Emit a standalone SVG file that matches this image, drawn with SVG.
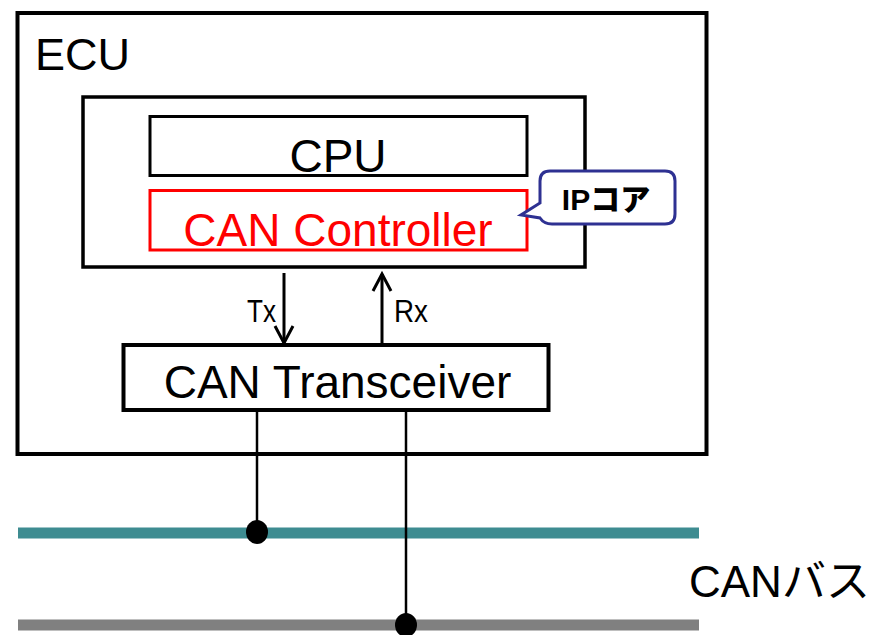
<svg xmlns="http://www.w3.org/2000/svg" width="875" height="635" viewBox="0 0 875 635">
  <defs>
    <style>
      .box { fill: #ffffff; stroke: #000000; }
      .lbl { font-family: "Liberation Sans", Arial, "Noto Sans CJK JP", sans-serif; fill: #000000; }
      .wire { stroke: #000000; stroke-width: 2.5; fill: none; }
      .arrow { stroke: #000000; stroke-width: 3; fill: none; }
      .bus { stroke-width: 11; fill: none; }
    </style>
    <marker id="arr" markerUnits="userSpaceOnUse" viewBox="-20 -12 24 24" markerWidth="24" markerHeight="24" refX="0" refY="0" orient="auto" overflow="visible">
      <path d="M-17,-9 L0,0 L-17,9" fill="none" stroke="#000000" stroke-width="3"/>
    </marker>
  </defs>

  <g id="bus">
    <line class="bus" x1="18" y1="533" x2="699" y2="533" stroke="#3E8C91"/>
    <line class="bus" x1="18" y1="625" x2="699" y2="625" stroke="#808080"/>
    <text class="lbl" x="689" y="597" font-size="44">CANバス</text>
  </g>

  <g id="ecu">
    <rect class="box" x="17.5" y="13" width="689" height="441" stroke-width="4"/>
    <text class="lbl" x="35" y="70" font-size="45">ECU</text>
  </g>

  <g id="mcu">
    <rect class="box" x="83" y="97" width="502" height="170" stroke-width="3.5"/>
  </g>

  <g id="cpu">
    <rect class="box" x="150" y="116.5" width="377" height="59" stroke-width="3"/>
    <text class="lbl" x="338" y="172" font-size="46" text-anchor="middle">CPU</text>
  </g>

  <g id="can-controller">
    <rect x="150" y="190.5" width="377" height="59.5" fill="#ffffff" stroke="#FF0000" stroke-width="3"/>
    <text class="lbl" x="338" y="246" font-size="46" text-anchor="middle" style="fill:#FF0000">CAN Controller</text>
  </g>

  <g id="ip-core-callout">
    <path d="M550,171 H665 Q675,171 675,181 V214 Q675,224 665,224 H552 Q544,224 540,218 L521,215 L540,203 V181 Q540,171 550,171 Z" fill="#ffffff" stroke="#2E3192" stroke-width="3"/>
    <text class="lbl" x="606" y="210" font-size="30" font-weight="900" text-anchor="middle">IPコア</text>
  </g>

  <g id="can-transceiver">
    <rect class="box" x="123.5" y="345" width="425" height="65" stroke-width="4"/>
    <text class="lbl" x="337.5" y="398" font-size="46" text-anchor="middle">CAN Transceiver</text>
  </g>

  <g id="connectors">
    <line class="arrow" x1="284" y1="273" x2="284" y2="343" marker-end="url(#arr)"/>
    <line class="arrow" x1="382" y1="345" x2="382" y2="274" marker-end="url(#arr)"/>
    <text class="lbl" x="247" y="322" font-size="32" textLength="29" lengthAdjust="spacingAndGlyphs">Tx</text>
    <text class="lbl" x="394" y="322" font-size="32" textLength="34" lengthAdjust="spacingAndGlyphs">Rx</text>
    <line class="wire" x1="257" y1="410" x2="257" y2="532"/>
    <line class="wire" x1="406" y1="410" x2="406" y2="625"/>
    <ellipse cx="257" cy="532" rx="11" ry="12" fill="#000000"/>
    <ellipse cx="406" cy="625" rx="11" ry="12" fill="#000000"/>
  </g>
</svg>
